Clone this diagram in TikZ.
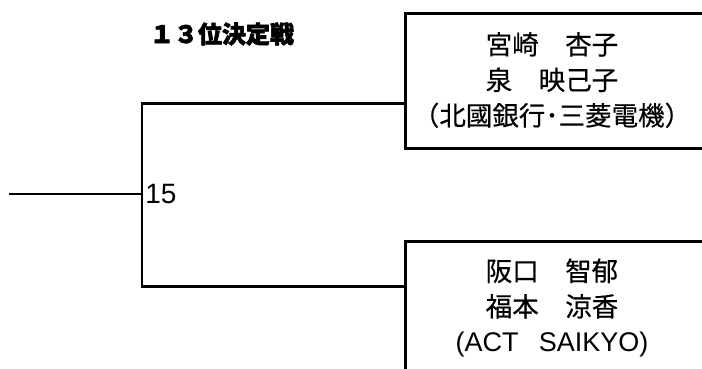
\documentclass[tikz,border=0pt]{standalone}
\usepackage{fontspec}
\setmainfont{Noto Sans CJK JP}[FakeBold=0.4]
\newfontfamily\heavy{Noto Sans CJK JP}[FakeBold=2.5]
\newfontfamily\latin{Liberation Sans}
\usetikzlibrary{positioning}

\begin{document}
\begin{tikzpicture}[x=1pt,y=-1pt,line width=2.5pt,
                        frame/.style={draw,rectangle,minimum width=360pt,minimum height=135pt,
                                      anchor=north west,inner sep=0pt},
                        names/.style={font=\fontsize{26.5}{35.5}\selectfont,inner sep=0pt,align=center}]
        \useasboundingbox (0,0) rectangle (702,368);

        \node[font=\heavy\bfseries\fontsize{24}{24}\selectfont] (title) at (222,34) {１３位決定戦};

        \node[frame] (box1) at (404,12) {};
        \node[frame] (box2) at (404,240) {};
        \node[names] (team1) at (552,80) {宮崎　杏子\\泉　映己子\\（北國銀行･三菱電機）};
        \node[names] (team2) at (552,308)
                {阪口　智郁\\福本　涼香\\{\latin\fontsize{27}{35.5}\selectfont (ACT\hspace{0.75em}SAIKYO)}};

        \coordinate (j) at (142,194);
        \coordinate (in) at (9,194);
        \node[right=2pt of j,inner sep=0pt,font=\latin\fontsize{28}{28}\selectfont] (r15) {15};

        \draw (j) |- ([yshift=-22.5pt]box1.west);
        \draw (j) |- ([yshift=22.5pt]box2.west);
        \draw[line width=2pt] (in) -- (j);
\end{tikzpicture}
\end{document}
